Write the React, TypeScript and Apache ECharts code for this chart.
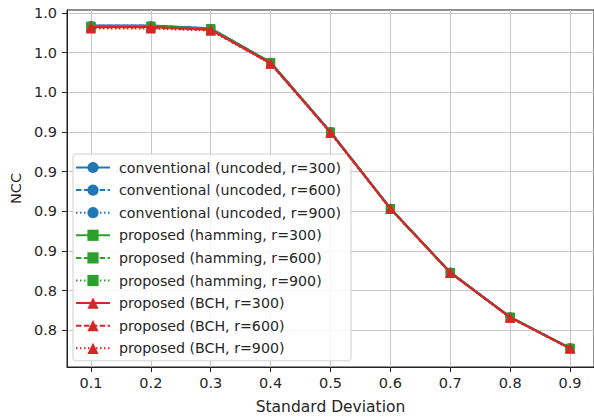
import React, { useEffect, useRef } from "react";
import * as echarts from "echarts";

const xValues = [0.1, 0.2, 0.3, 0.4, 0.5, 0.6, 0.7, 0.8, 0.9];
const xTickValues = [0.1, 0.2, 0.3, 0.4, 0.5, 0.6, 0.7, 0.8, 0.9];
const xTickLabels = ["0.1", "0.2", "0.3", "0.4", "0.5", "0.6", "0.7", "0.8", "0.9"];
const yTickValues = [0.8, 0.825, 0.85, 0.875, 0.9, 0.925, 0.95, 0.975, 1.0];
const yTickLabels = ["0.8", "0.8", "0.9", "0.9", "0.9", "0.9", "1.0", "1.0", "1.0"];

const conv300 = [0.9921, 0.9921, 0.9904, 0.9690, 0.9252, 0.8770, 0.8367, 0.8085, 0.7890];
const conv600 = [0.9920, 0.9920, 0.9903, 0.9689, 0.9251, 0.8769, 0.8366, 0.8084, 0.7889];
const conv900 = [0.9919, 0.9919, 0.9902, 0.9688, 0.9250, 0.8768, 0.8365, 0.8083, 0.7888];
const ham300 = [0.9917, 0.9917, 0.9901, 0.9687, 0.9249, 0.8768, 0.8365, 0.8083, 0.7887];
const ham600 = [0.9916, 0.9916, 0.9900, 0.9686, 0.9249, 0.8767, 0.8364, 0.8082, 0.7887];
const ham900 = [0.9914, 0.9914, 0.9898, 0.9685, 0.9248, 0.8767, 0.8364, 0.8082, 0.7886];
const bch300 = [0.9912, 0.9912, 0.9896, 0.9684, 0.9248, 0.8767, 0.8364, 0.8082, 0.7887];
const bch600 = [0.9908, 0.9908, 0.9893, 0.9682, 0.9246, 0.8766, 0.8363, 0.8081, 0.7886];
const bch900 = [0.9902, 0.9902, 0.9889, 0.9680, 0.9245, 0.8765, 0.8362, 0.8080, 0.7885];

const names = [
  "conventional (uncoded, r=300)",
  "conventional (uncoded, r=600)",
  "conventional (uncoded, r=900)",
  "proposed (hamming, r=300)",
  "proposed (hamming, r=600)",
  "proposed (hamming, r=900)",
  "proposed (BCH, r=300)",
  "proposed (BCH, r=600)",
  "proposed (BCH, r=900)",
];

const BLUE = "#1f77b4";
const GREEN = "#2ca02c";
const RED = "#d62728";
const FONT = "DejaVu Sans";

export default function App() {
  const ref = useRef<HTMLDivElement>(null);
  useEffect(() => {
    if (!ref.current) return;
    const chart = echarts.init(ref.current, undefined, { renderer: "svg" });
    const dataSets = [conv300, conv600, conv900, ham300, ham600, ham900, bch300, bch600, bch900];
    const colors = [BLUE, BLUE, BLUE, GREEN, GREEN, GREEN, RED, RED, RED];
    const symbols = ["circle", "circle", "circle", "rect", "rect", "rect", "triangle", "triangle", "triangle"];
    const dashes: any[] = ["solid", [5.5, 2.4], [1.5, 2.5]];
    const series = dataSets.map((arr, i) => ({
      name: names[i],
      type: "line",
      data: arr.map((v, j) => [xValues[j], v]),
      symbol: symbols[i],
      symbolSize: symbols[i] === "triangle" ? 10 : 9,
      showSymbol: true,
      itemStyle: { color: colors[i] },
      lineStyle: { color: colors[i], width: 2, type: dashes[i % 3] },
      z: 2 + i,
    }));
    chart.setOption({
      animation: false,
      backgroundColor: "#ffffff",
      textStyle: { fontFamily: FONT },
      grid: {
        left: 67,
        right: -1,
        top: 10,
        bottom: 52,
        show: true,
        borderColor: "#222",
        borderWidth: 1,
      },
      legend: {
        orient: "vertical",
        left: 73,
        top: 154,
        padding: [6.5, 10, 5.5, 2],
        itemGap: 8.6,
        itemWidth: 34,
        itemHeight: 14,
        backgroundColor: "rgba(255,255,255,0.85)",
        borderColor: "#d0d0d0",
        borderWidth: 1,
        borderRadius: 3,
        textStyle: { fontFamily: FONT, fontSize: 14.2, color: "#262626", padding: [0, 0, 0, 4] },
        data: names,
      },
      xAxis: {
        type: "value",
        min: 0.06,
        max: 0.94,
        name: "Standard Deviation",
        nameLocation: "middle",
        nameGap: 32,
        nameTextStyle: { fontFamily: FONT, fontSize: 15.5, color: "#262626" },
        axisLine: { show: true, onZero: false, lineStyle: { color: "#222", width: 1 } },
        axisTick: { show: true, length: 5, customValues: xTickValues, lineStyle: { color: "#222" } },
        axisLabel: {
          customValues: xTickValues,
          margin: 8,
          fontFamily: FONT,
          fontSize: 14.5,
          color: "#262626",
          formatter: (v: number) => {
            const idx = xTickValues.findIndex((t) => Math.abs(t - v) < 1e-6);
            return idx >= 0 ? xTickLabels[idx] : "";
          },
        },
        splitLine: { show: true, lineStyle: { color: "#c8c8c8", width: 1 } },
      },
      yAxis: {
        type: "value",
        min: 0.7769,
        max: 1.0019,
        name: "NCC",
        nameLocation: "middle",
        nameGap: 44,
        nameTextStyle: { fontFamily: FONT, fontSize: 14.5, color: "#262626" },
        axisLine: { show: true, onZero: false, lineStyle: { color: "#222", width: 1 } },
        axisTick: { show: true, length: 5, customValues: yTickValues, lineStyle: { color: "#222" } },
        axisLabel: {
          customValues: yTickValues,
          margin: 10,
          fontFamily: FONT,
          fontSize: 14.5,
          color: "#262626",
          formatter: (v: number) => {
            const idx = yTickValues.findIndex((t) => Math.abs(t - v) < 1e-6);
            return idx >= 0 ? yTickLabels[idx] : "";
          },
        },
        splitLine: { show: true, lineStyle: { color: "#c8c8c8", width: 1 } },
      },
      series,
    });
    return () => chart.dispose();
  }, []);
  return (
    <div
      ref={ref}
      style={{ position: "fixed", left: 0, top: 0, width: 594, height: 420 }}
    />
  );
}
